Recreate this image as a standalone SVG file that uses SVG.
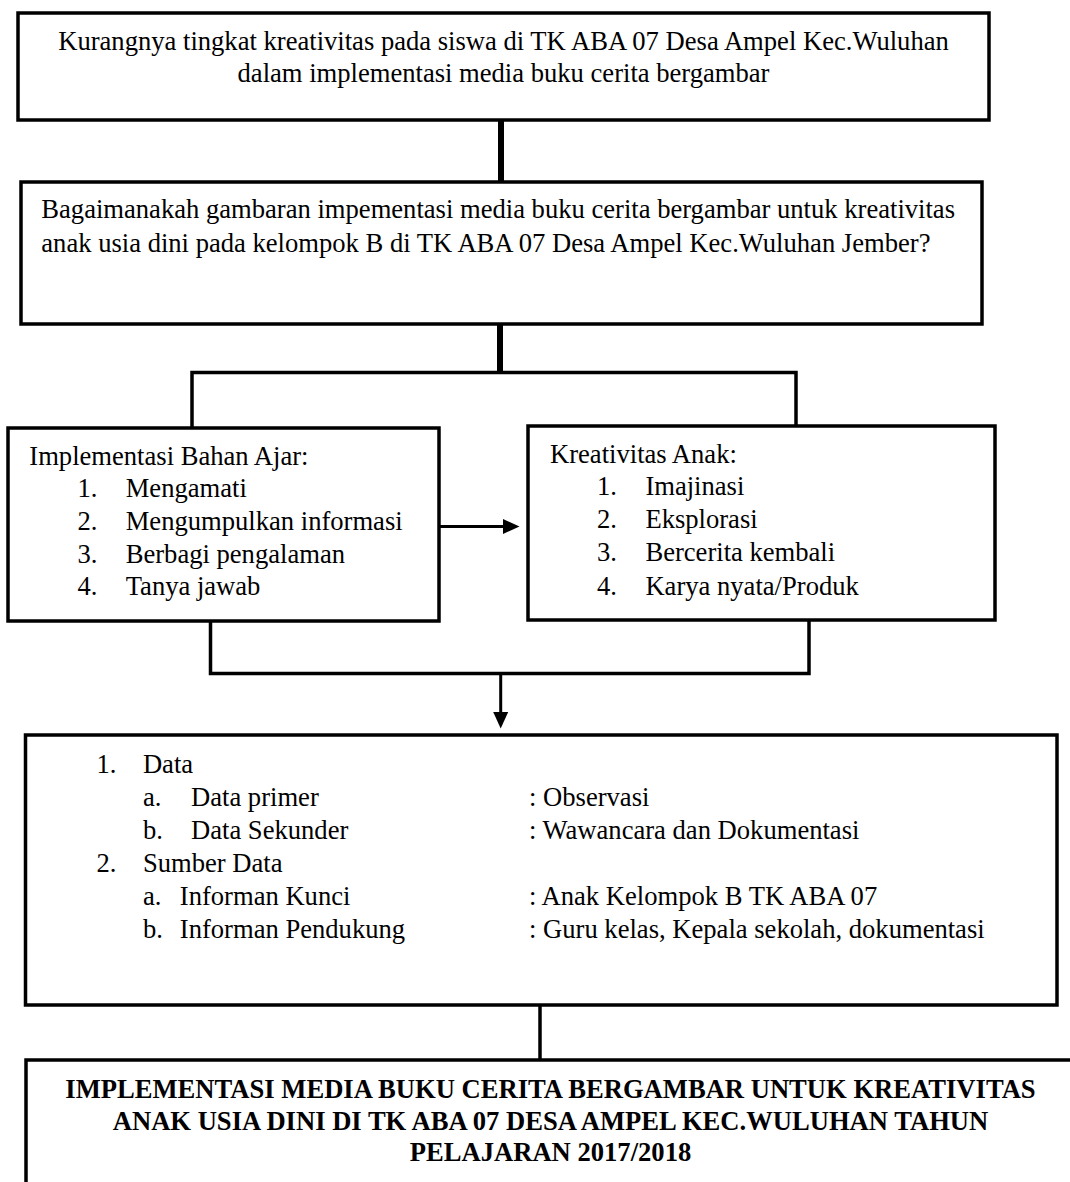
<svg xmlns="http://www.w3.org/2000/svg" width="1070" height="1182" viewBox="0 0 1070 1182">
<style>
.box{fill:none;stroke:#000;stroke-width:3.5}
.t{font-family:"Liberation Serif","Times New Roman",serif;font-size:26.6px;fill:#000}
.b{font-weight:bold}
.c{text-anchor:middle}
.ln{fill:none;stroke:#000;stroke-width:3.5}
.thick{stroke-width:6}
.thin{stroke-width:3}
</style>
<defs>
<marker id="ah" markerUnits="userSpaceOnUse" markerWidth="17" markerHeight="16" refX="0" refY="8" orient="auto" overflow="visible">
<path d="M0,0.5 L16.5,8 L0,15.5 Z" fill="#000"/>
</marker>
</defs>
<rect width="1070" height="1182" fill="#fff"/>

<g id="connectors">
<line class="ln thick" x1="501" y1="120" x2="501" y2="182"/>
<line class="ln thick" x1="500" y1="324" x2="500" y2="374"/>
<polyline class="ln" points="192,428 192,372.5 796,372.5 796,426"/>
<line class="ln thin" x1="439" y1="526.5" x2="503" y2="526.5" marker-end="url(#ah)"/>
<polyline class="ln" points="210.5,621 210.5,673.5 809,673.5 809,620"/>
<line class="ln thin" x1="500.7" y1="673.5" x2="500.7" y2="712" marker-end="url(#ah)"/>
<line class="ln" stroke-width="4" x1="540" y1="1005" x2="540" y2="1060"/>
</g>

<g id="node-masalah">
<rect class="box" x="18" y="13" width="971" height="107"/>
<text class="t c" x="503.5" y="50">Kurangnya tingkat kreativitas pada siswa di TK ABA 07 Desa Ampel Kec.Wuluhan</text>
<text class="t c" x="503.5" y="81.7">dalam implementasi media buku cerita bergambar</text>
</g>

<g id="node-rumusan">
<rect class="box" x="21" y="182" width="961" height="142"/>
<text class="t" x="41.3" y="218.3">Bagaimanakah gambaran impementasi media buku cerita bergambar untuk kreativitas</text>
<text class="t" x="41.3" y="251.7">anak usia dini pada kelompok B di TK ABA 07 Desa Ampel Kec.Wuluhan Jember?</text>
</g>

<g id="node-implementasi">
<rect class="box" x="8" y="428" width="431" height="193"/>
<text class="t" x="29.3" y="465">Implementasi Bahan Ajar:</text>
<text class="t" x="77.5" y="496.7">1.</text><text class="t" x="125.7" y="496.7">Mengamati</text>
<text class="t" x="77.5" y="530">2.</text><text class="t" x="125.7" y="530">Mengumpulkan informasi</text>
<text class="t" x="77.5" y="562.7">3.</text><text class="t" x="125.7" y="562.7">Berbagi pengalaman</text>
<text class="t" x="77.5" y="595">4.</text><text class="t" x="125.7" y="595">Tanya jawab</text>
</g>

<g id="node-kreativitas">
<rect class="box" x="528" y="426" width="467" height="194"/>
<text class="t" x="550" y="463.3">Kreativitas Anak:</text>
<text class="t" x="597" y="495">1.</text><text class="t" x="645.4" y="495">Imajinasi</text>
<text class="t" x="597" y="528.3">2.</text><text class="t" x="645.4" y="528.3">Eksplorasi</text>
<text class="t" x="597" y="560.7">3.</text><text class="t" x="645.4" y="560.7">Bercerita kembali</text>
<text class="t" x="597" y="595">4.</text><text class="t" x="645.4" y="595">Karya nyata/Produk</text>
</g>

<g id="node-data">
<rect class="box" x="25.5" y="735" width="1031.5" height="270"/>
<text class="t" x="96.4" y="772.7">1.</text><text class="t" x="142.9" y="772.7">Data</text>
<text class="t" x="142.9" y="806">a.</text><text class="t" x="191" y="806">Data primer</text><text class="t" x="529" y="806">: Observasi</text>
<text class="t" x="142.9" y="839.3">b.</text><text class="t" x="191" y="839.3">Data Sekunder</text><text class="t" x="529" y="839.3">: Wawancara dan Dokumentasi</text>
<text class="t" x="96.4" y="871.7">2.</text><text class="t" x="142.9" y="871.7">Sumber Data</text>
<text class="t" x="142.9" y="905">a.</text><text class="t" x="179.8" y="905">Informan Kunci</text><text class="t" x="529" y="905">: Anak Kelompok B TK ABA 07</text>
<text class="t" x="142.9" y="938.3">b.</text><text class="t" x="179.8" y="938.3">Informan Pendukung</text><text class="t" x="529" y="938.3">: Guru kelas, Kepala sekolah, dokumentasi</text>
</g>

<g id="node-judul">
<path class="box" d="M26,1185 V1060 H1075"/>
<text class="t b c" x="550.5" y="1098.3">IMPLEMENTASI MEDIA BUKU CERITA BERGAMBAR UNTUK KREATIVITAS</text>
<text class="t b c" x="550.5" y="1130">ANAK USIA DINI DI TK ABA 07 DESA AMPEL KEC.WULUHAN TAHUN</text>
<text class="t b c" x="550.5" y="1160.7">PELAJARAN 2017/2018</text>
</g>
</svg>
